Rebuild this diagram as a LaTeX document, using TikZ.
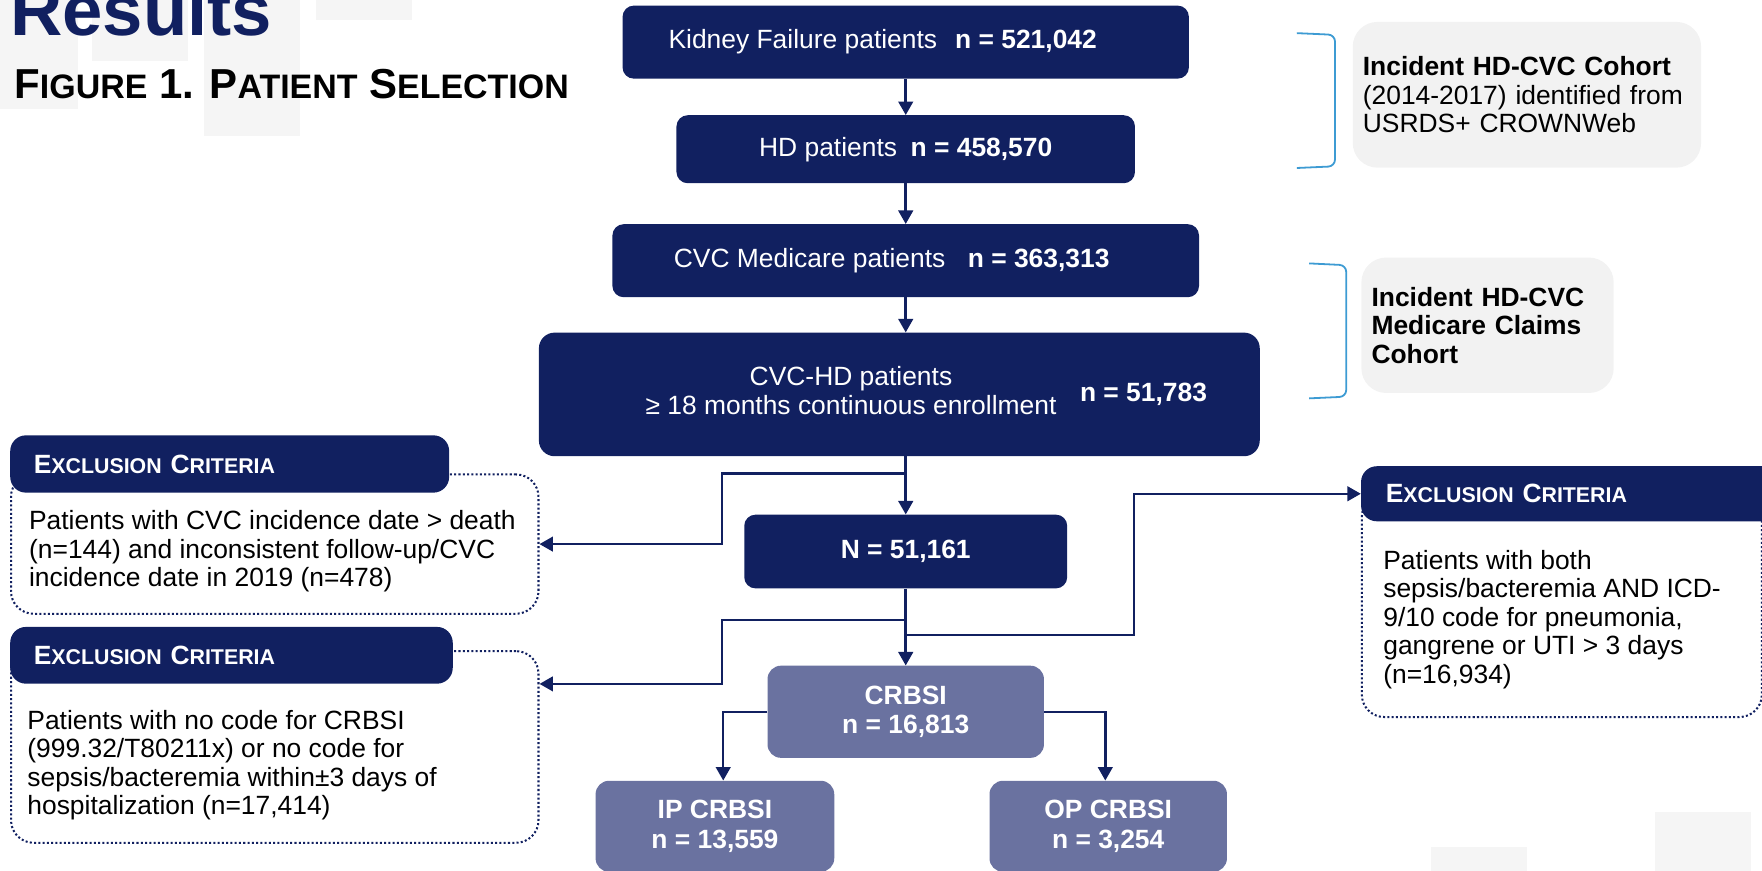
\documentclass[tikz,border=0pt]{standalone}
\usepackage{fontspec}
\setmainfont{Liberation Sans}
\usepackage{xcolor}
\usetikzlibrary{arrows.meta,positioning,calc}
\definecolor{navy}{HTML}{112060}
\definecolor{slate}{HTML}{6A72A0}
\definecolor{bggray}{HTML}{F5F5F5}
\definecolor{boxgray}{HTML}{F2F2F2}
\definecolor{bracketblue}{HTML}{3D9BD3}
\newcommand{\ecsc}[1]{{\fontsize{19}{19}\selectfont #1}}
\newcommand{\titlesc}[1]{{\fontsize{30.2}{30}\selectfont #1}}

\begin{document}
\begin{tikzpicture}[x=1pt,y=-1pt,
    boxfont/.style={font=\fontsize{23.5}{25.3}\selectfont},
    flowbox/.style={boxfont,rectangle,rounded corners=10pt,fill=navy,text=white,inner sep=0pt},
    slatebox/.style={flowbox,fill=slate,font=\fontsize{23.5}{26}\selectfont\bfseries,align=center},
    exhead/.style={rectangle,rounded corners=14pt,fill=navy,text=white,inner ysep=0pt,inner xsep=21pt,
        align=left,anchor=north west,font=\fontsize{23.5}{25}\selectfont\bfseries},
    exbody/.style={rectangle,rounded corners=20pt,draw=navy,dotted,line width=1.8pt,inner sep=0pt,anchor=north west},
    extext/.style={boxfont,align=left,inner sep=0pt,anchor=north west},
    infobox/.style={boxfont,rectangle,rounded corners=22pt,fill=boxgray,align=left,inner ysep=0pt,inner xsep=9pt,anchor=north west},
    flow/.style={draw=navy,line width=2.2pt,-{Triangle[length=12pt,width=13pt]}},
    bracket/.style={draw=bracketblue,line width=1.6pt,rounded corners=6pt}]
    \useasboundingbox (0,0) rectangle (1568,775);
    \foreach \xa/\ya/\xb/\yb in {0/0/69.5/96.7, 81.7/0/166.9/54.3, 181.5/0/266.7/121, 281.3/0/366.8/17.8,
        1273.6/753.5/1359/780, 1472.5/722.4/1557.9/780}
        \fill[bggray] (\xa,\ya) rectangle (\xb,\yb);

    \node[anchor=base west,inner sep=0pt,text=navy,font=\fontsize{64.5}{70}\selectfont\bfseries] (results) at (8.9,31.2) {Results};
    \node[anchor=base west,inner sep=0pt,font=\fontsize{37.3}{40}\selectfont\bfseries] (figtitle) at (12.6,87.5)
        {F\titlesc{IGURE} 1. P\titlesc{ATIENT} S\titlesc{ELECTION}};

    \node[flowbox,minimum width=504pt,minimum height=65pt] (kf) at (806,37.5)
        {Kidney Failure patients\hspace{16pt}\textbf{n = 521,042}\hspace*{41pt}};
    \node[flowbox,minimum width=408pt,minimum height=60.5pt] (hd) at (806,132.8)
        {HD patients\hspace{12pt}\textbf{n = 458,570}};
    \node[flowbox,minimum width=522pt,minimum height=65pt] (cvc) at (806,232)
        {CVC Medicare patients\hspace{20pt}\textbf{n = 363,313}\hspace*{25pt}};
    \node[flowbox,rounded corners=14pt,minimum width=641.5pt,minimum height=110pt] (enrol) at (800.3,351)
        {\hspace*{48pt}\begin{tabular}{@{}c@{}}CVC-HD patients\\≥ 18 months continuous enrollment\end{tabular}\hspace{21pt}\textbf{n = 51,783}};
    \node[flowbox,minimum width=287.4pt,minimum height=65.6pt] (total) at (806,490.8) {\textbf{N = 51,161}};
    \node[slatebox,rounded corners=12pt,minimum width=246pt,minimum height=82pt] (crbsi) at (806,633.4) {CRBSI\\n = 16,813};
    \node[slatebox,rounded corners=12pt,minimum width=212.4pt,minimum height=81pt] (ip) at (636.2,735.3) {IP CRBSI\\n = 13,559};
    \node[slatebox,rounded corners=12pt,minimum width=211.3pt,minimum height=81pt] (op) at (986.2,735.3) {OP CRBSI\\n = 3,254};

    \node[infobox,minimum height=129.7pt,text width=292pt] (cohortA) at (1203.6,19.3)
        {\textbf{Incident HD-CVC Cohort}\\(2014-2017) identified from\\USRDS+ CROWNWeb};
    \node[infobox,minimum height=120.5pt,text width=206.5pt,font=\fontsize{23.5}{25.3}\selectfont\bfseries] (cohortB) at (1211.3,229)
        {Incident HD-CVC\\Medicare Claims\\Cohort};
    \draw[bracket] (1154,29.5) -- (1188,31) -- (1188,148) -- (1154,149.5);
    \draw[bracket] (1165,234.4) -- (1198,236) -- (1198,353) -- (1165,354.5);

    \node[exbody,minimum width=469.4pt,minimum height=124pt] (exAbody) at (8.9,421.3) {};
    \node[exhead,minimum height=51pt,text width=348.6pt] (exAhead) at (8.9,387.2) {E\ecsc{XCLUSION} C\ecsc{RITERIA}};
    \node[extext] (exAtext) at (25.7,454.3)
        {Patients with CVC incidence date > death\\(n=144) and inconsistent follow-up/CVC\\incidence date in 2019 (n=478)};

    \node[exbody,minimum width=469.4pt,minimum height=170.6pt] (exBbody) at (8.9,578.5) {};
    \node[exhead,minimum height=50.5pt,text width=351.8pt] (exBhead) at (8.9,557.7) {E\ecsc{XCLUSION} C\ecsc{RITERIA}};
    \node[extext] (exBtext) at (24.2,632)
        {Patients with no code for CRBSI\\(999.32/T80211x) or no code for\\sepsis/bacteremia within±3 days of\\hospitalization (n=17,414)};

    \node[exbody,minimum width=356pt,minimum height=198.2pt] (exCbody) at (1211,439) {};
    \node[exhead,minimum height=49pt,inner xsep=22pt,text width=335pt] (exChead) at (1211,414.7) {E\ecsc{XCLUSION} C\ecsc{RITERIA}};
    \node[extext] (exCtext) at (1230.8,489.6)
        {Patients with both\\sepsis/bacteremia AND ICD-\\9/10 code for pneumonia,\\gangrene or UTI > 3 days\\(n=16,934)};

    \coordinate (splitA) at (806,421.4);
    \coordinate (splitB) at (806,551.8);
    \coordinate (splitC) at (806,565);
    \draw[flow] (kf) -- (hd);
    \draw[flow] (hd) -- (cvc);
    \draw[flow] (cvc.south) -- (cvc.south |- enrol.north);
    \draw[flow] (total.north |- enrol.south) -- (total.north);
    \draw[flow] (total) -- (crbsi);
    \draw[flow] (splitA) -- ++(-163.6,0) |- (exAbody.east);
    \draw[flow] (splitB) -- ++(-163.6,0) |- (exBbody.east |- exBhead.south);
    \draw[flow] (splitC) -- ++(203,0) |- (exChead.west);
    \draw[flow] (crbsi.west) -| ([xshift=7.4pt]ip.north);
    \draw[flow] (crbsi.east) -| ([xshift=-2.6pt]op.north);
\end{tikzpicture}
\end{document}
